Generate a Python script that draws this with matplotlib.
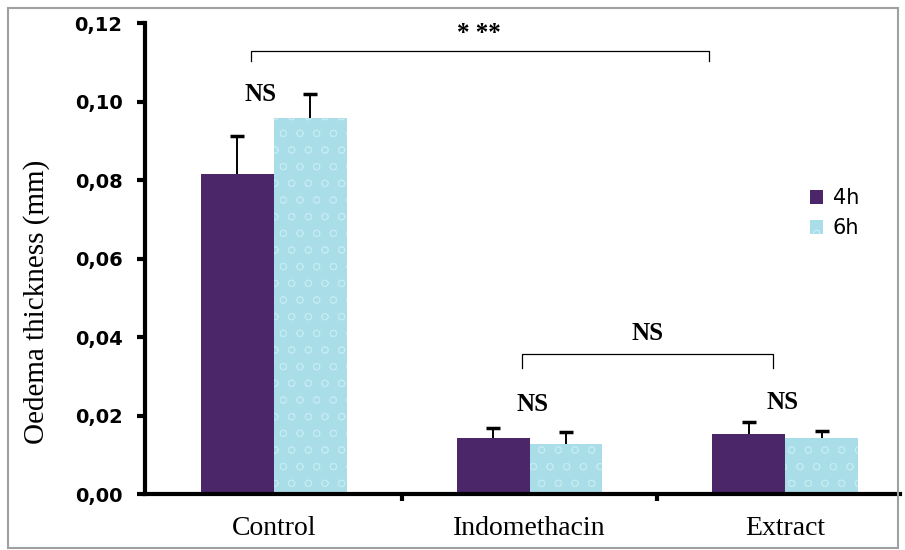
import numpy as np
import matplotlib.pyplot as plt
from matplotlib.patches import Rectangle

# data
groups = ['Control', 'Indomethacin', 'Extract']
mean_4h = [0.0815, 0.0143, 0.0153]
err_4h = [0.0097, 0.0025, 0.0030]
mean_6h = [0.0958, 0.0127, 0.0143]
err_6h = [0.0061, 0.0031, 0.0018]
yticks = [0.00, 0.02, 0.04, 0.06, 0.08, 0.10, 0.12]

purple = '#4b2668'
cyan = '#a9dde7'
serif = 'Liberation Serif'
sans = 'DejaVu Sans'

fig = plt.figure(figsize=(9.05, 5.5), dpi=100)
ax = fig.add_axes([0.160, 0.1018, 0.835, 0.856])

x = np.arange(len(groups))
w = 0.285
plt.rcParams['hatch.linewidth'] = 0.6
ax.bar(x - w/2, mean_4h, w, color=purple, linewidth=0, label='4h')
ax.bar(x + w/2, mean_6h, w, color=cyan, edgecolor='#c4ebf2', hatch='o',
       linewidth=0, label='6h')

# upper error bars only: stem + cap at the top
for xs, m, e in [(x - w/2, mean_4h, err_4h), (x + w/2, mean_6h, err_6h)]:
    top = np.array(m) + np.array(e)
    ax.vlines(xs, m, top, color='black', lw=1.4)
    ax.scatter(xs, top, marker='_', s=110, color='black', linewidths=2.5,
               zorder=3)

ax.set_xlim(-0.504, 2.45)
ax.set_ylim(0, 0.12)
ax.set_yticks(yticks)
ax.set_yticklabels([f'{v:.2f}'.replace('.', ',') for v in yticks],
                   fontfamily=sans, fontweight='bold', fontsize=14)
ax.set_xticks([0.5, 1.5])
ax.set_xticklabels([])
ax.set_xticks(x, minor=True)
ax.set_xticklabels(groups, minor=True, fontfamily=serif, fontsize=20)
ax.tick_params(axis='x', which='minor', length=0, pad=16)
ax.tick_params(axis='x', which='major', length=5, width=3, direction='out')
ax.tick_params(axis='y', length=6, width=3, direction='out', pad=10)

for s in ['top', 'right']:
    ax.spines[s].set_visible(False)
ax.spines['left'].set_linewidth(3)
ax.spines['bottom'].set_linewidth(3)

ax.set_ylabel('Oedema thickness (mm)', fontfamily=serif, fontsize=21)
ax.yaxis.set_label_coords(-0.125, 0.408)

# significance brackets
def bracket(x0, x1, y, leg):
    ax.plot([x0, x0, x1, x1], [y - leg, y, y, y - leg], color='black',
            lw=0.9, clip_on=False)

bracket(-0.09, 1.7, 0.1128, 0.0025)
ax.text(0.80, 0.1145, '* **', ha='center', va='bottom', fontfamily=serif,
        fontweight='bold', fontsize=18)
bracket(0.97, 1.95, 0.0357, 0.0035)
ax.text(1.46, 0.0380, 'NS', ha='center', va='bottom', fontfamily=serif,
        fontweight='bold', fontsize=18)
for xi, yi in zip([-0.05, 1.01, 1.99], [0.0990, 0.0200, 0.0205]):
    ax.text(xi, yi, 'NS', ha='center', va='bottom', fontfamily=serif,
            fontweight='bold', fontsize=18)

ax.legend(loc='upper left', bbox_to_anchor=(0.855, 0.69), frameon=False,
          prop={'family': sans, 'size': 15}, handlelength=0.65,
          handleheight=0.65, handletextpad=0.45, labelspacing=0.5)

# outer frame
fig.patches.append(Rectangle((0.009, 0.004), 0.983, 0.982,
                             transform=fig.transFigure, fill=False,
                             edgecolor='#a0a0a0', lw=1.5))

fig.savefig('out.png', dpi=100)
